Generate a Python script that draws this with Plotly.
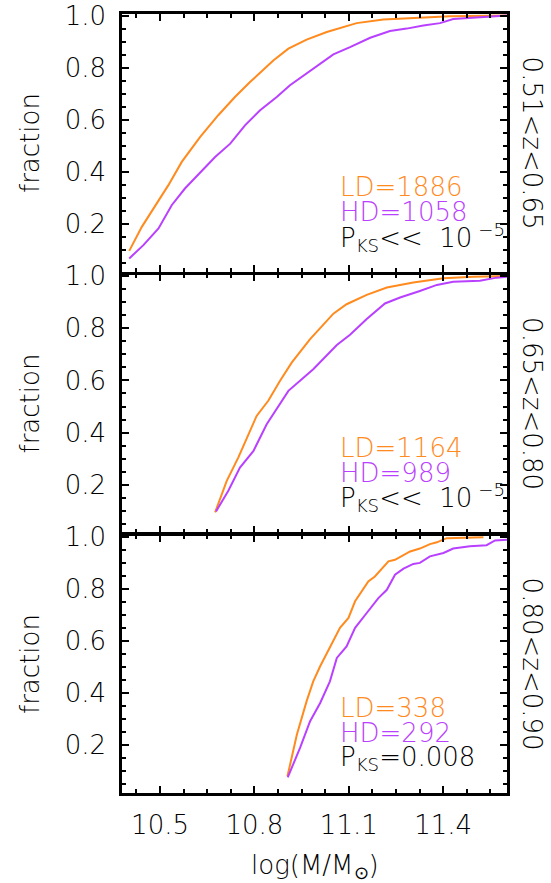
import plotly.graph_objects as go

# ---- data ----
p1_ld_x = [10.402, 10.442, 10.489, 10.526, 10.569, 10.627, 10.685, 10.738, 10.786, 10.860, 10.908, 10.966, 11.030, 11.072, 11.125, 11.210, 11.316, 11.422, 11.603]
p1_ld_y = [0.098, 0.190, 0.279, 0.349, 0.439, 0.534, 0.618, 0.688, 0.745, 0.828, 0.873, 0.908, 0.937, 0.952, 0.971, 0.985, 0.992, 0.997, 1.000]
p1_hd_x = [10.402, 10.447, 10.495, 10.537, 10.579, 10.633, 10.675, 10.723, 10.770, 10.818, 10.871, 10.913, 10.987, 11.051, 11.104, 11.168, 11.231, 11.284, 11.337, 11.390, 11.432, 11.507, 11.603]
p1_hd_y = [0.069, 0.120, 0.184, 0.273, 0.337, 0.407, 0.458, 0.509, 0.579, 0.637, 0.688, 0.733, 0.797, 0.851, 0.879, 0.915, 0.941, 0.950, 0.962, 0.971, 0.987, 0.992, 1.000]

p2_ld_x = [10.675, 10.712, 10.749, 10.807, 10.844, 10.881, 10.919, 10.977, 11.051, 11.093, 11.157, 11.221, 11.305, 11.401, 11.496, 11.603]
p2_ld_y = [0.094, 0.215, 0.305, 0.464, 0.522, 0.598, 0.669, 0.758, 0.856, 0.892, 0.928, 0.956, 0.975, 0.992, 0.997, 1.000]
p2_hd_x = [10.678, 10.717, 10.754, 10.797, 10.839, 10.908, 10.987, 11.062, 11.104, 11.157, 11.215, 11.263, 11.326, 11.380, 11.432, 11.517, 11.570, 11.603]
p2_hd_y = [0.098, 0.177, 0.266, 0.330, 0.432, 0.560, 0.643, 0.736, 0.775, 0.835, 0.895, 0.918, 0.943, 0.966, 0.978, 0.982, 0.994, 0.997]

p3_ld_x = [10.905, 10.935, 10.966, 10.987, 11.009, 11.040, 11.072, 11.099, 11.120, 11.162, 11.183, 11.226, 11.247, 11.295, 11.326, 11.358, 11.380, 11.411, 11.528]
p3_ld_y = [0.081, 0.241, 0.369, 0.445, 0.503, 0.573, 0.650, 0.688, 0.752, 0.828, 0.847, 0.905, 0.911, 0.943, 0.954, 0.971, 0.978, 0.994, 0.997]
p3_hd_x = [10.906, 10.945, 10.977, 11.009, 11.040, 11.062, 11.093, 11.120, 11.157, 11.194, 11.221, 11.247, 11.274, 11.305, 11.326, 11.358, 11.401, 11.432, 11.485, 11.538, 11.565, 11.603]
p3_hd_y = [0.077, 0.190, 0.292, 0.362, 0.445, 0.535, 0.579, 0.650, 0.707, 0.764, 0.796, 0.854, 0.877, 0.895, 0.899, 0.924, 0.937, 0.954, 0.963, 0.967, 0.985, 0.988]

z_labels = ["0.51<z<0.65", "0.65<z<0.80", "0.80<z<0.90"]
ld_counts = [1886, 1164, 338]
hd_counts = [1058, 989, 292]
pks_labels = ["&lt;&lt;  10<sup> −5</sup>", "&lt;&lt;  10<sup> −5</sup>", "=0.008"]
x_ticks = [10.5, 10.8, 11.1, 11.4]

ORANGE = "#FF8A1E"
PURPLE = "#B940FF"
FONT = "DejaVu Sans"
FS = 26
W = 300
LW = 2.5

panels = [(p1_ld_x, p1_ld_y, p1_hd_x, p1_hd_y),
          (p2_ld_x, p2_ld_y, p2_hd_x, p2_hd_y),
          (p3_ld_x, p3_ld_y, p3_hd_x, p3_hd_y)]

FIG_W, FIG_H = 551, 883
M_L, M_R, M_T, M_B = 122, 44, 14, 90
PH = FIG_H - M_T - M_B          # plot area height in px
panel_px = (PH - 2 * LW) / 3
domains = [[(2 * panel_px + 2 * LW) / PH, 1.0],
           [(panel_px + LW) / PH, (2 * panel_px + LW) / PH],
           [0.0, panel_px / PH]]

fig = go.Figure()
annotations = []
for i, (lx, ly, hx, hy) in enumerate(panels):
    n = i + 1
    xa = "x" if n == 1 else f"x{n}"
    ya = "y" if n == 1 else f"y{n}"
    fig.add_trace(go.Scatter(x=lx, y=ly, mode="lines", line=dict(color=ORANGE, width=2),
                             xaxis=xa, yaxis=ya, showlegend=False))
    fig.add_trace(go.Scatter(x=hx, y=hy, mode="lines", line=dict(color=PURPLE, width=2),
                             xaxis=xa, yaxis=ya, showlegend=False))
    axis_common = dict(showline=True, linecolor="black", linewidth=LW, mirror="ticks",
                       ticks="inside", ticklen=7, tickwidth=2, tickcolor="black",
                       showgrid=False, zeroline=False)
    fig.layout[f"xaxis{'' if n == 1 else n}"] = dict(
        domain=[0, 1], range=[10.379, 11.603], anchor=ya,
        tickvals=x_ticks, ticktext=[f"{v:.1f}" for v in x_ticks],
        showticklabels=(n == 3),
        minor=dict(tick0=10.5, dtick=0.075, ticks="inside", ticklen=4, tickwidth=2, tickcolor="black"),
        tickfont=dict(family=FONT, size=FS, color="black", weight=W),
        ticklabelstandoff=7,
        **axis_common)
    fig.layout[f"yaxis{'' if n == 1 else n}"] = dict(
        domain=domains[i], range=[0.017, 1.006], anchor=xa,
        tick0=0, dtick=0.2, tickformat=".1f",
        minor=dict(tick0=0, dtick=0.05, ticks="inside", ticklen=4, tickwidth=2, tickcolor="black"),
        tickfont=dict(family=FONT, size=FS, color="black", weight=W),
        ticklabelstandoff=8, ticklabeloverflow="allow",
        **axis_common)
    ycen = (domains[i][0] + domains[i][1]) / 2
    annotations.append(dict(xref="paper", yref="paper", x=-0.239, y=ycen, text="fraction",
                            textangle=-90, showarrow=False, xanchor="center", yanchor="middle",
                            font=dict(family=FONT, size=FS, color="black", weight=W)))
    annotations.append(dict(xref="paper", yref="paper", x=1.066, y=ycen, text=z_labels[i].replace("<", "&lt;"),
                            textangle=90, showarrow=False, xanchor="center", yanchor="middle",
                            font=dict(family=FONT, size=FS, color="black", weight=W)))
    for txt, yy, col in [(f"LD={ld_counts[i]}", 0.342, ORANGE),
                         (f"HD={hd_counts[i]}", 0.246, PURPLE),
                         (f"P<sub>KS</sub>{pks_labels[i]}", 0.150, "black")]:
        annotations.append(dict(xref=xa, yref=ya, x=11.066, y=yy, text=txt, showarrow=False,
                                xanchor="left", yanchor="middle",
                                font=dict(family=FONT, size=FS, color=col, weight=W)))

annotations.append(dict(xref="paper", yref="paper", x=0.5, y=-0.094, text="log(M/M<sub>⊙</sub>)",
                        showarrow=False, xanchor="center", yanchor="middle",
                        font=dict(family=FONT, size=FS, color="black", weight=W)))

fig.update_layout(width=FIG_W, height=FIG_H,
                  margin=dict(l=M_L, r=M_R, t=M_T, b=M_B, autoexpand=False),
                  paper_bgcolor="white", plot_bgcolor="white", annotations=annotations)

fig.write_html("out.html", config={"displayModeBar": False},
               post_script="document.body.style.margin='0px';")
